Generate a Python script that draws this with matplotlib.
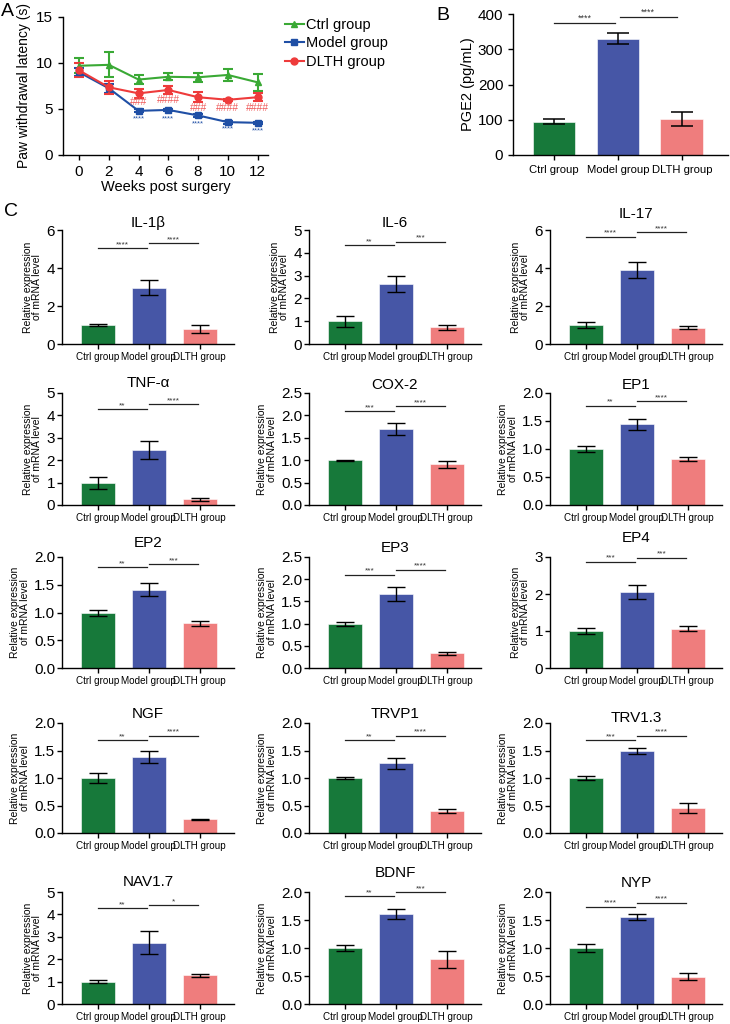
import matplotlib
matplotlib.use('Agg')
import matplotlib.pyplot as plt
from matplotlib.lines import Line2D
import numpy as np

plt.rcParams['font.family'] = ['Liberation Sans', 'DejaVu Sans']

groups = ['Ctrl group', 'Model group', 'DLTH group']
bar_colors = ['#17793a', '#4656a6', '#ef7d7d']

# panel A - paw withdrawal latency
weeks = [0, 2, 4, 6, 8, 10, 12]
ctrl_lat = [9.7, 9.8, 8.2, 8.5, 8.45, 8.7, 7.9]
ctrl_err = [0.8, 1.35, 0.45, 0.36, 0.5, 0.65, 0.95]
model_lat = [9.0, 7.25, 4.8, 4.9, 4.3, 3.57, 3.5]
model_err = [0.45, 0.5, 0.15, 0.15, 0.15, 0.15, 0.1]
dlth_lat = [9.2, 7.36, 6.7, 7.07, 6.28, 6.0, 6.28]
dlth_err = [0.75, 0.68, 0.45, 0.47, 0.56, 0.1, 0.45]
hash_marks = ['', '', '###', '####', '###', '####', '####']
hash_y = [0, 0, 5.8, 6.0, 5.1, 5.1, 5.1]
star_marks = ['', '', '****', '****', '****', '****', '****']
star_y = [0, 0, 3.95, 3.95, 3.4, 2.8, 2.65]

# panel B - PGE2
pge2 = [95, 330, 102]
pge2_err = [7, 15, 20]

# panel C - mRNA levels
genes = ['IL-1\u03b2', 'IL-6', 'IL-17',
         'TNF-\u03b1', 'COX-2', 'EP1',
         'EP2', 'EP3', 'EP4',
         'NGF', 'TRVP1', 'TRV1.3',
         'NAV1.7', 'BDNF', 'NYP']
expr = [[1.0, 2.97, 0.79], [0.99, 2.62, 0.73], [1.0, 3.88, 0.86],
        [0.98, 2.45, 0.26], [1.0, 1.70, 0.91], [1.0, 1.44, 0.82],
        [0.99, 1.41, 0.81], [1.0, 1.67, 0.33], [1.0, 2.05, 1.06],
        [1.0, 1.39, 0.25], [1.0, 1.27, 0.40], [1.0, 1.49, 0.46],
        [0.99, 2.74, 1.29], [1.0, 1.60, 0.80], [1.0, 1.55, 0.49]]
expr_err = [[0.07, 0.41, 0.19], [0.24, 0.36, 0.1], [0.15, 0.42, 0.07],
            [0.28, 0.39, 0.07], [0.01, 0.13, 0.08], [0.045, 0.1, 0.036],
            [0.055, 0.12, 0.045], [0.045, 0.15, 0.035], [0.07, 0.19, 0.07],
            [0.09, 0.11, 0.01], [0.02, 0.1, 0.04], [0.03, 0.06, 0.09],
            [0.06, 0.52, 0.07], [0.06, 0.09, 0.15], [0.065, 0.05, 0.06]]
ymax = [6, 5, 6, 5, 2.5, 2.0, 2.0, 2.5, 3, 2.0, 2.0, 2.0, 5, 2.0, 2.0]
ystep = [2, 1, 2, 1, 0.5, 0.5, 0.5, 0.5, 1, 0.5, 0.5, 0.5, 1, 0.5, 0.5]
sig_text = [['****', '****'], ['**', '***'], ['****', '****'],
            ['**', '****'], ['***', '****'], ['**', '****'],
            ['**', '***'], ['***', '****'], ['***', '***'],
            ['**', '****'], ['**', '****'], ['***', '****'],
            ['**', '*'], ['**', '***'], ['****', '****']]
sig_y = [[5.04, 5.3], [4.34, 4.49], [5.65, 5.88],
         [4.29, 4.5], [2.10, 2.20], [1.77, 1.85],
         [1.82, 1.87], [2.10, 2.21], [2.87, 2.98],
         [1.69, 1.77], [1.69, 1.77], [1.69, 1.77],
         [4.29, 4.41], [1.93, 2.0], [1.74, 1.81]]

W, H = 730, 1024
fig = plt.figure(figsize=(W / 100, H / 100), dpi=100)


def px_axes(left, top, right, bottom):
    return fig.add_axes([left / W, 1 - bottom / H, (right - left) / W, (bottom - top) / H])


def style(ax):
    ax.spines['top'].set_visible(False)
    ax.spines['right'].set_visible(False)
    for s in ['left', 'bottom']:
        ax.spines[s].set_linewidth(1.0)
    ax.tick_params(width=1.0, length=3.5)


def sig_line(ax, xa, xb, y, txt, fs):
    ax.plot([xa, xb], [y, y], color='#222222', lw=0.9, clip_on=False)
    ax.text((xa + xb) / 2, y, txt, ha='center', va='bottom', fontsize=fs, color='#333333', clip_on=False)


# ---- A ----
axA = px_axes(63, 17, 268, 155)
style(axA)
axA.errorbar(weeks, ctrl_lat, yerr=ctrl_err, color='#3aa935', marker='^', ms=5, lw=1.5,
             capsize=3.5, capthick=1.5, elinewidth=1.5)
axA.errorbar(weeks, model_lat, yerr=model_err, color='#1f4fa5', marker='s', ms=5, lw=1.5,
             capsize=3.5, capthick=1.5, elinewidth=1.5)
axA.errorbar(weeks, dlth_lat, yerr=dlth_err, color='#ee3b3b', marker='o', ms=5, lw=1.5,
             capsize=3.5, capthick=1.5, elinewidth=1.5)
for w, t, y in zip(weeks, hash_marks, hash_y):
    if t:
        axA.text(w, y, t, ha='center', va='center', fontsize=7.5, color='#ef5a5a')
for w, t, y in zip(weeks, star_marks, star_y):
    if t:
        axA.text(w, y, t, ha='center', va='center', fontsize=5.5, color='#1f4fa5')
axA.set_xlim(-1.08, 12.7)
axA.set_ylim(0, 15)
axA.set_xticks(weeks)
axA.set_yticks([0, 5, 10, 15])
axA.tick_params(labelsize=11)
axA.set_xlabel('Weeks post surgery', fontsize=10.5, labelpad=1)
axA.set_ylabel('Paw withdrawal latency (s)', fontsize=10, labelpad=4)
handles = [Line2D([], [], color='#3aa935', marker='^', ms=5, lw=1.5),
           Line2D([], [], color='#1f4fa5', marker='s', ms=5, lw=1.5),
           Line2D([], [], color='#ee3b3b', marker='o', ms=5, lw=1.5)]
axA.legend(handles, ['Ctrl group', 'Model group', 'DLTH group'], loc='upper left',
           bbox_to_anchor=(285 / W, 1 - 18 / H), bbox_transform=fig.transFigure,
           frameon=False, fontsize=10.5, handlelength=1.3, handletextpad=0.15, borderaxespad=0,
           borderpad=0, labelspacing=0.3)
fig.text(1 / W, 1 - 11 / H, 'A', fontsize=14, va='center', ha='left')

# ---- B ----
axB = px_axes(513, 14, 728, 155)
style(axB)
xb = np.arange(3)
axB.bar(xb, pge2, width=0.67, color=bar_colors, edgecolor='white', linewidth=0.4)
axB.errorbar(xb, pge2, yerr=pge2_err, fmt='none', ecolor='black', elinewidth=1.1, capsize=8, capthick=1.1)
axB.set_xlim(-0.64, 2.72)
axB.set_ylim(0, 400)
axB.set_yticks([0, 100, 200, 300, 400])
axB.set_xticks(xb)
axB.set_xticklabels(groups, fontsize=8.1)
axB.tick_params(axis='y', labelsize=11)
axB.set_ylabel('PGE2 (pg/mL)', fontsize=10.5, labelpad=2)
sig_line(axB, 0.0, 0.95, 375, '****', 6.5)
sig_line(axB, 1.03, 1.92, 392, '****', 6.5)
fig.text(443 / W, 1 - 15 / H, 'B', fontsize=14, va='center', ha='center')

# ---- C ----
fig.text(4 / W, 1 - 212 / H, 'C', fontsize=14, va='center', ha='left')
col_left = [62, 309, 550]
row_top = [230, 393, 557, 723, 892]
row_bot = [344, 505, 668, 833, 1004]
title_px = [223, 223, 214, 383, 385, 385, 543, 548, 538, 714, 714, 718, 882, 873, 883]
for i, g in enumerate(genes):
    r, c = divmod(i, 3)
    ax = px_axes(col_left[c], row_top[r], col_left[c] + 172, row_bot[r])
    style(ax)
    x = np.arange(3)
    ax.bar(x, expr[i], width=0.66, color=bar_colors, edgecolor='white', linewidth=0.4)
    ax.errorbar(x, expr[i], yerr=expr_err[i], fmt='none', ecolor='black', elinewidth=1.0,
                capsize=6.5, capthick=1.0)
    ax.set_xlim(-0.7, 2.67)
    ax.set_ylim(0, ymax[i])
    ticks = np.arange(0, ymax[i] + 1e-9, ystep[i])
    ax.set_yticks(ticks)
    if ystep[i] < 1:
        ax.set_yticklabels(['%.1f' % t for t in ticks])
    else:
        ax.set_yticklabels(['%d' % t for t in ticks])
    ax.tick_params(axis='y', labelsize=11, pad=1.5)
    ax.set_xticks(x)
    ax.set_xticklabels(groups, fontsize=7.1)
    ax.tick_params(axis='x', pad=2)
    ax.set_ylabel('Relative expression\nof mRNA level', fontsize=7.5, linespacing=0.95, labelpad=3)
    ax.text(0.5, 1 + (row_top[r] - title_px[i]) / (row_bot[r] - row_top[r]), g,
            transform=ax.transAxes, ha='center', va='center', fontsize=11)
    sig_line(ax, 0.0, 0.97, sig_y[i][0], sig_text[i][0], 6)
    sig_line(ax, 1.0, 1.96, sig_y[i][1], sig_text[i][1], 6)

fig.savefig('out.png', dpi=100)
